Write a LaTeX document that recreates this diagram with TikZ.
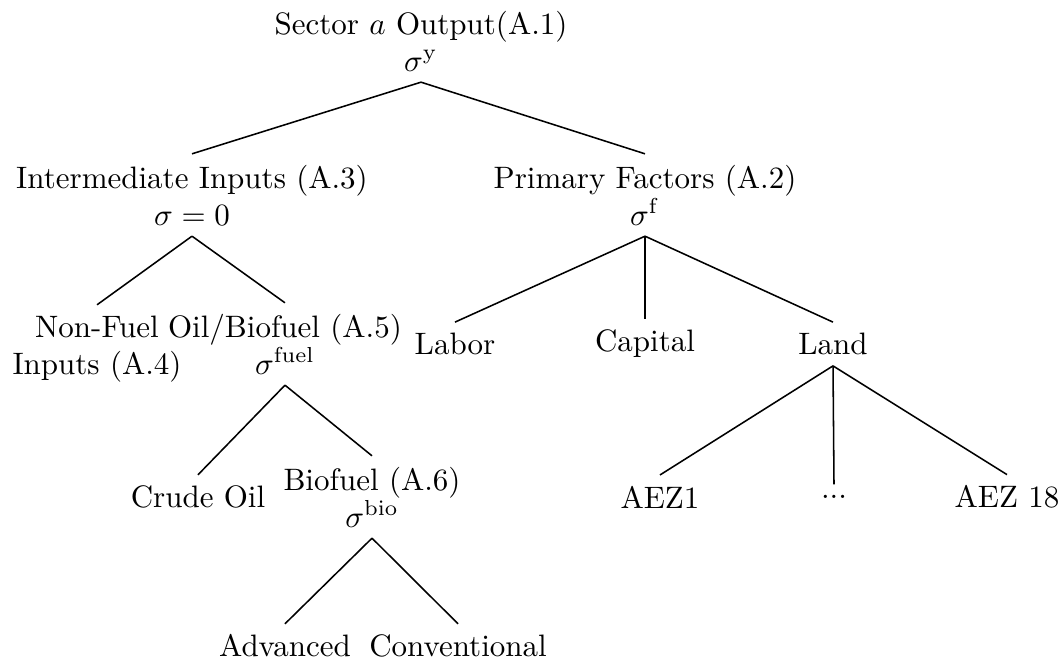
\documentclass[tikz,border=0pt]{standalone}
\begin{document}
\begin{tikzpicture}[x=0.3226pt,y=-0.3226pt,
  every node/.style={align=center, inner sep=0.3333em},
  branch/.style={draw=black, line width=0.5pt}]
\useasboundingbox (0,0) rectangle (1061,660);
% level 0
\node (root) at (421,41) {Sector $a$ Output(A.1)\\$\sigma^{\mathrm{y}}$};
% level 1
\node (inter) at (192,195) {Intermediate Inputs (A.3)\\$\sigma=0$};
\node (prim) at (645,195) {Primary Factors (A.2)\\$\sigma^{\mathrm{f}}$};
% level 2
\node (nonfuel) at (97,349) {Non-Fuel\\Inputs (A.4)};
\node (fuel) at (285,344) {Oil/Biofuel (A.5)\\$\sigma^{\mathrm{fuel}}$};
\node (labor) at (455,344) {Labor};
\node (capital) at (645,344) {Capital};
\node (land) at (833,344) {Land};
% level 3
\node (crude) at (198,497) {Crude Oil};
\node (bio) at (372,497) {Biofuel (A.6)\\$\sigma^{\mathrm{bio}}$};
\node (aez1) at (660,497) {AEZ1};
\node (dots) at (834,497) {...};
\node (aez18) at (1007,497) {AEZ 18};
% level 4
\node (adv) at (285,646) {Advanced};
\node (conv) at (458,646) {Conventional};
% edges
\draw[branch] (root.south) -- (inter.north);
\draw[branch] (root.south) -- (prim.north);
\draw[branch] (inter.south) -- (nonfuel.north);
\draw[branch] (inter.south) -- (fuel.north);
\draw[branch] (prim.south) -- (labor.north);
\draw[branch] (prim.south) -- (capital.north);
\draw[branch] (prim.south) -- (land.north);
\draw[branch] (fuel.south) -- (crude.north);
\draw[branch] (fuel.south) -- (bio.north);
\draw[branch] (land.south) -- (aez1.north);
\draw[branch] (land.south) -- (dots.north);
\draw[branch] (land.south) -- (aez18.north);
\draw[branch] (bio.south) -- (adv.north);
\draw[branch] (bio.south) -- (conv.north);
\end{tikzpicture}
\end{document}
